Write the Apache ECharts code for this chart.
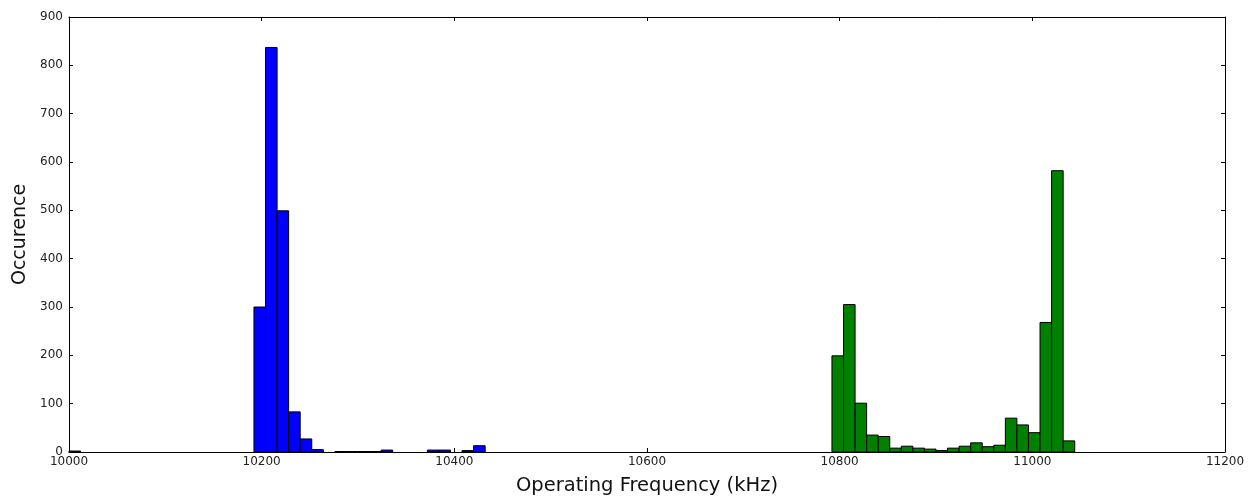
<!DOCTYPE html>
<html>
<head>
<meta charset="utf-8">
<script src="https://cdn.jsdelivr.net/npm/echarts@6/dist/echarts.min.js"></script>
<style>
html,body{margin:0;padding:0;background:#fff;}
#chart{width:1251px;height:498px;}
</style>
</head>
<body>
<div id="chart"></div>
<script>
// ---- data ----
const binWidth = 12; // kHz
const blueStart = 10000;
const blueCounts = [2,0,0,0,0,0,0,0,0,0,0,0,0,0,0,0,
  300,837,499,83,27,5,0,1,1,1,1,4,0,0,0,4,4,0,3,13];
const greenStart = 10792;
const greenCounts = [199,305,101,35,32,8,12,8,6,3,8,12,19,11,14,70,56,40,268,582,23];
const xTicks = [10000,10200,10400,10600,10800,11000,11200];
const yTicks = [0,100,200,300,400,500,600,700,800,900];
const xLabel = 'Operating Frequency (kHz)';
const yLabel = 'Occurence';

function toBins(start, counts){
  return counts.map((c,i)=>[start+i*binWidth, start+(i+1)*binWidth, c]);
}
function histSeries(data, color){
  return {
    type:'custom',
    xAxisIndex:0, yAxisIndex:0,
    data:data,
    renderItem:function(params, api){
      const y = api.value(2);
      if(!y) return null;
      const p0 = api.coord([api.value(0), y]);
      const p1 = api.coord([api.value(1), 0]);
      return {type:'rect',
        shape:{x:p0[0], y:p0[1], width:p1[0]-p0[0], height:p1[1]-p0[1]},
        style:{fill:color, stroke:'#000', lineWidth:1}};
    }
  };
}
const font = 'DejaVu Sans';
const tickLen = 4;
const chart = echarts.init(document.getElementById('chart'), null, {renderer:'canvas'});
const lineStyle = {color:'#000', width:1};
const plain = v => String(v);
chart.setOption({
  animation:false,
  grid:{left:69, right:26, top:17, bottom:46, containLabel:false, outerBoundsMode:'none'},
  xAxis:[{
    type:'value', min:xTicks[0], max:xTicks[xTicks.length-1], interval:xTicks[1]-xTicks[0],
    name:xLabel, nameLocation:'middle', nameGap:24,
    nameTextStyle:{fontFamily:font, fontSize:19.5, color:'#111'},
    axisLine:{show:true, onZero:false, lineStyle:lineStyle},
    axisTick:{show:true, inside:true, length:tickLen, lineStyle:lineStyle},
    axisLabel:{fontFamily:font, fontSize:12, color:'#222', margin:4, formatter:plain},
    splitLine:{show:false}
  },{
    type:'value', position:'top', min:xTicks[0], max:xTicks[xTicks.length-1], interval:xTicks[1]-xTicks[0],
    axisLine:{show:true, onZero:false, lineStyle:lineStyle},
    axisTick:{show:true, inside:true, length:tickLen, lineStyle:lineStyle},
    axisLabel:{show:false}, splitLine:{show:false}
  }],
  yAxis:[{
    type:'value', min:yTicks[0], max:yTicks[yTicks.length-1], interval:yTicks[1]-yTicks[0],
    name:yLabel, nameLocation:'middle', nameGap:37,
    nameTextStyle:{fontFamily:font, fontSize:19, color:'#111'},
    axisLine:{show:true, onZero:false, lineStyle:lineStyle},
    axisTick:{show:true, inside:true, length:tickLen, lineStyle:lineStyle},
    axisLabel:{fontFamily:font, fontSize:12, color:'#222', margin:6, formatter:plain},
    splitLine:{show:false}
  },{
    type:'value', position:'right', min:yTicks[0], max:yTicks[yTicks.length-1], interval:yTicks[1]-yTicks[0],
    axisLine:{show:true, onZero:false, lineStyle:lineStyle},
    axisTick:{show:true, inside:true, length:tickLen, lineStyle:lineStyle},
    axisLabel:{show:false}, splitLine:{show:false}
  }],
  series:[
    histSeries(toBins(blueStart, blueCounts), '#0000ff'),
    histSeries(toBins(greenStart, greenCounts), '#008000')
  ]
});
</script>
</body>
</html>
